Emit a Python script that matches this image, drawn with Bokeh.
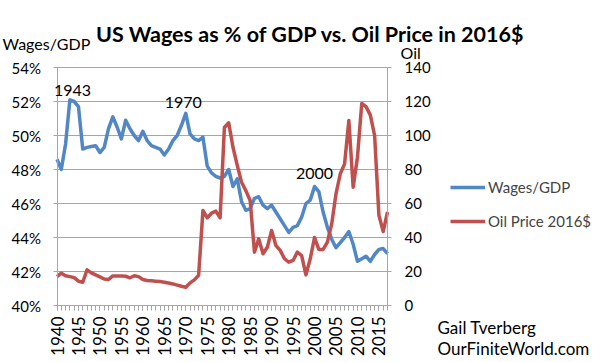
import math
from bokeh.plotting import figure
from bokeh.models import (Range1d, LinearAxis, FixedTicker, PrintfTickFormatter,
                          Label, Legend, LegendItem)
from bokeh.embed import file_html
from bokeh.resources import INLINE

years = list(range(1940, 2018))
wages_pct = [
    48.6, 48.0, 49.5, 52.1, 52.0, 51.7, 49.2, 49.3, 49.35, 49.4,
    49.0, 49.3, 50.4, 51.1, 50.5, 49.8, 50.9, 50.4, 50.0, 49.7,
    50.25, 49.7, 49.4, 49.3, 49.2, 48.85, 49.2, 49.7, 50.0, 50.6,
    51.3, 50.1, 49.8, 49.7, 49.9, 48.2, 47.8, 47.6, 47.5, 47.6,
    48.0, 47.0, 47.45, 46.1, 45.6, 45.7, 46.3, 46.4, 45.9, 45.7,
    45.9, 45.5, 45.1, 44.7, 44.3, 44.6, 44.7, 45.2, 46.0, 46.2,
    47.0, 46.7, 45.5, 44.6, 43.9, 43.4, 43.7, 44.0, 44.35, 43.6,
    42.6, 42.75, 42.9, 42.6, 43.0, 43.3, 43.35, 43.05,
]
oil_price = [
    17.0, 19.0, 17.5, 17.0, 16.4, 14.3, 13.7, 21.0, 19.2, 18.0,
    16.8, 15.6, 15.3, 17.4, 17.4, 17.3, 17.2, 16.3, 17.5, 17.0,
    15.3, 14.7, 14.5, 14.3, 14.1, 13.7, 13.2, 12.7, 12.0, 11.3,
    10.7, 13.3, 15.1, 17.8, 55.9, 51.6, 54.3, 55.5, 51.6, 104.7,
    107.5, 93.1, 82.4, 72.5, 67.6, 61.8, 31.4, 39.2, 30.4, 34.3,
    44.1, 35.3, 32.4, 27.5, 25.5, 26.5, 31.4, 29.4, 18.0, 27.5,
    40.0, 33.0, 33.0, 37.3, 48.0, 65.7, 77.5, 83.3, 108.8, 69.6,
    87.2, 118.8, 117.0, 112.0, 100.0, 53.0, 43.5, 55.0,
]
wage_ticks = list(range(40, 55, 2))
oil_ticks = list(range(0, 141, 20))
year_label_ticks = list(range(1940, 2016, 5))

FONT = "Lato"
GRID = "#A6A6A6"
BLUE = "#5287C6"
RED = "#C0504D"

# page layout (pixels) of the plotting area inside a full-canvas frame
W, H = 600, 362
PL, PR, PT, PB = 56.5, 387.0, 67.0, 305.0

x_lo, x_hi = years[0], years[-1]
w_lo, w_hi = wage_ticks[0], wage_ticks[-1]
o_lo, o_hi = oil_ticks[0], oil_ticks[-1]

kx = (PR - PL) / (x_hi - x_lo)
kw = (PB - PT) / (w_hi - w_lo)
ko = (PB - PT) / (o_hi - o_lo)

x_range = Range1d(x_lo - PL / kx, x_hi + (W - PR) / kx)
y_range = Range1d(w_lo - (H - PB) / kw, w_hi + PT / kw)
oil_range = Range1d(o_lo - (H - PB) / ko, o_hi + PT / ko)

p = figure(width=W, height=H, output_backend="svg", toolbar_location=None,
           x_range=x_range, y_range=y_range, min_border=0,
           x_axis_location=None, y_axis_location=None)
p.outline_line_color = None
p.background_fill_color = "white"
p.border_fill_color = "white"
p.grid.visible = False
p.extra_y_ranges = {"oil": oil_range}

# horizontal gridlines across the plotting area only
p.segment(x0=[x_lo] * len(wage_ticks), x1=[x_hi] * len(wage_ticks),
          y0=wage_ticks, y1=wage_ticks, line_color=GRID, line_width=1)

def style_axis(ax, size="15px"):
    ax.axis_line_color = GRID
    ax.major_tick_line_color = GRID
    ax.major_tick_in = 0
    ax.major_label_text_font = FONT
    ax.major_label_text_font_size = size
    ax.major_label_text_color = "black"

# left axis
la = LinearAxis(ticker=FixedTicker(ticks=wage_ticks),
                formatter=PrintfTickFormatter(format="%d%%"),
                fixed_location=x_lo, bounds=(w_lo, w_hi))
style_axis(la)
la.major_tick_out = 4
la.minor_tick_line_color = None
la.major_label_standoff = 12
p.add_layout(la, "left")

# right axis
ra = LinearAxis(y_range_name="oil", ticker=FixedTicker(ticks=oil_ticks),
                fixed_location=x_hi, bounds=(o_lo, o_hi))
style_axis(ra)
ra.major_tick_out = 4
ra.minor_tick_line_color = None
ra.major_label_standoff = 13
p.add_layout(ra, "right")

# bottom axis
xa = LinearAxis(ticker=FixedTicker(ticks=year_label_ticks, minor_ticks=years),
                fixed_location=w_lo, bounds=(x_lo, x_hi))
style_axis(xa, "17px")
xa.minor_tick_line_color = GRID
xa.major_tick_out = 5
xa.minor_tick_out = 5
xa.minor_tick_in = 0
xa.major_label_orientation = math.pi / 2
xa.major_label_standoff = 6
p.add_layout(xa, "below")

r_w = p.line(years, wages_pct, line_width=3.5, line_color=BLUE, line_join="round")
r_o = p.line(years, oil_price, y_range_name="oil", line_width=3.5, line_color=RED,
             line_join="round")

legend = Legend(items=[LegendItem(label="Wages/GDP", renderers=[r_w]),
                       LegendItem(label="Oil Price 2016$", renderers=[r_o])],
                location=(450, 131), glyph_width=35, glyph_height=20,
                label_height=20, spacing=14, padding=0, margin=0,
                border_line_color=None, background_fill_alpha=0,
                label_text_font=FONT, label_text_font_size="15px",
                label_standoff=3)
p.add_layout(legend)

def add_text(x, y, text, size, units="screen", bold=False, align="left"):
    p.add_layout(Label(x=x, y=y, x_units=units, y_units=units, text=text,
                       text_font=FONT, text_font_size=size,
                       text_font_style="bold" if bold else "normal",
                       text_align=align, text_baseline="middle",
                       text_color="black"))

add_text(310, H - 33, "US Wages as % of GDP vs. Oil Price in 2016$", "21.5px", bold=True, align="center")
add_text(2, H - 43, "Wages/GDP", "16px")
add_text(400, H - 52, "Oil", "16px")
add_text(437, H - 327, "Gail Tverberg", "17px")
add_text(437, H - 348, "OurFiniteWorld.com", "17px")
add_text(1943.6, 52.65, "1943", "16px", units="data", align="center")
add_text(1969.4, 51.94, "1970", "16px", units="data", align="center")
add_text(2000.0, 47.76, "2000", "16px", units="data", align="center")

open("out.html", "w").write(file_html(p, INLINE))
